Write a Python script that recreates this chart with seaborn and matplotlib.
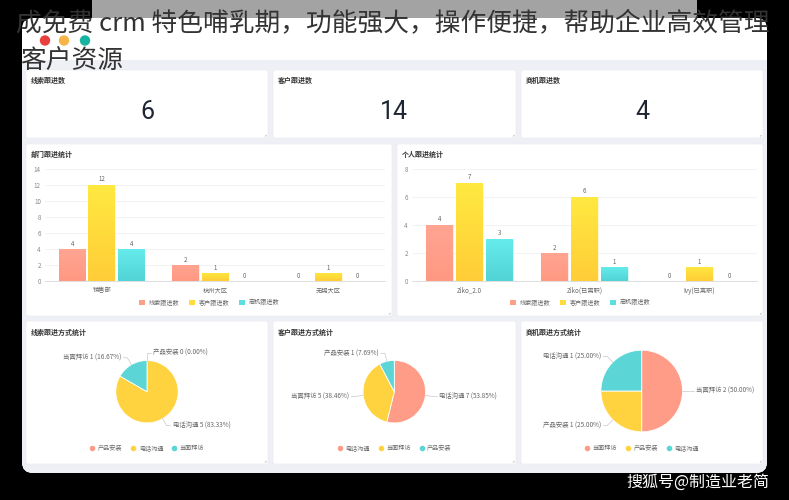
import numpy as np
import pandas as pd
import matplotlib
matplotlib.use("Agg")
import matplotlib.pyplot as plt
import seaborn as sns
from matplotlib.patches import FancyBboxPatch, Rectangle, Circle, Patch
from matplotlib.lines import Line2D
from matplotlib.colors import LinearSegmentedColormap

# ---------------- data ----------------
headline_line1 = "成免费 crm 特色哺乳期，功能强大，操作便捷，帮助企业高效管理"
headline_line2 = "客户资源"
card_titles = ["线索跟进数", "客户跟进数", "商机跟进数"]
card_values = [6, 14, 4]

series_names = ["线索跟进数", "客户跟进数", "商机跟进数"]
dept_title = "部门跟进统计"
dept_names = ["销售部", "杭州大区", "无锡大区"]
dept_lead = [4, 2, 0]
dept_customer = [12, 1, 1]
dept_opp = [4, 0, 0]

person_title = "个人跟进统计"
person_names = ["Ziko_2.0", "Ziko(已离职)", "Ivy(已离职)"]
person_lead = [4, 2, 0]
person_customer = [7, 6, 1]
person_opp = [3, 1, 0]

pie_titles = ["线索跟进方式统计", "客户跟进方式统计", "商机跟进方式统计"]
pie1_labels = ["产品安装", "电话沟通", "当面拜访"]
pie1_values = [0, 5, 1]
pie2_labels = ["电话沟通", "当面拜访", "产品安装"]
pie2_values = [7, 5, 1]
pie3_labels = ["当面拜访", "产品安装", "电话沟通"]
pie3_values = [2, 1, 1]
watermark = "搜狐号@制造业老简"

# ---------------- style ----------------
sns.set_theme(style="white")
plt.rcParams["font.family"] = ["Noto Sans CJK SC", "DejaVu Sans"]

W, H = 789, 500
fig = plt.figure(figsize=(W / 100, H / 100), dpi=100)
fig.patch.set_facecolor("black")


def rect(x0, y0, x1, y1):
    return [x0 / W, 1 - y1 / H, (x1 - x0) / W, (y1 - y0) / H]


bg = fig.add_axes([0, 0, 1, 1], zorder=0)
bg.set_xlim(0, W)
bg.set_ylim(H, 0)
bg.axis("off")
bg.set_facecolor("black")

# gray band at top and window
bg.add_patch(Rectangle((92, 0), 605, 20, color="#a3a3a3", lw=0))
bg.add_patch(FancyBboxPatch((22, 18), 745, 455, boxstyle="round,pad=0,rounding_size=11",
                            fc="white", ec="none"))
bg.add_patch(FancyBboxPatch((22, 60), 745, 413, boxstyle="round,pad=0,rounding_size=11",
                            fc="#eff0f5", ec="none"))
bg.add_patch(Rectangle((22, 60), 745, 20, color="#eff0f5", lw=0))
for cx, col in zip([45, 64, 85], ["#e8403f", "#f7b449", "#16b3a1"]):
    bg.add_patch(Circle((cx, 40.5), 5.2, color=col, lw=0))

# panels
def panel(x0, y0, x1, y1):
    bg.add_patch(FancyBboxPatch((x0, y0), x1 - x0, y1 - y0,
                                boxstyle="round,pad=0,rounding_size=2",
                                fc="white", ec="#e8e9ee", lw=0.4))
    bg.plot([x1 - 3, x1 - 1.5], [y1 - 1.5, y1 - 3], color="#999", lw=0.4)

row1 = [(26, 268), (273, 516), (521, 763)]
for (x0, x1), t, v in zip(row1, card_titles, card_values):
    panel(x0, 70, x1, 138)
    bg.text(x0 + 5, 80, t, fontsize=5, fontweight="bold", color="#333", va="center")
    bg.text((x0 + x1) / 2, 112, str(v), fontsize=18, color="#1e2533", ha="center",
            va="center", family=["Roboto", "DejaVu Sans"], fontweight="normal")

panel(26, 144, 392, 316)
panel(397, 144, 763, 316)
bg.text(31, 154, dept_title, fontsize=5, fontweight="bold", color="#333", va="center")
bg.text(402, 154, person_title, fontsize=5, fontweight="bold", color="#333", va="center")

for (x0, x1), t in zip(row1, pie_titles):
    panel(x0, 321, x1, 464)
    bg.text(x0 + 5, 332, t, fontsize=5, fontweight="bold", color="#333", va="center")

# headline overlay text and watermark
bg.text(16, 23, headline_line1, fontsize=18.5, color="#333333", va="center", ha="left", zorder=10)
bg.text(20, 61, headline_line2, fontsize=18.5, color="#333333", va="center", ha="left", zorder=10)
bg.text(769, 482, watermark, fontsize=11.5, color="white", va="center", ha="right", zorder=10)

# ---------------- bar charts ----------------
bar_colors = ["#ff9e89", "#ffdb3c", "#5ddfe2"]
grad = {
    "#ff9e89": ("#ff9882", "#ffa592"),
    "#ffdb3c": ("#ffcd38", "#ffe940"),
    "#5ddfe2": ("#52d3d6", "#66ecec"),
}


def bar_chart(box, names, s1, s2, s3, ymax, legend_x):
    ax = fig.add_axes(rect(*box), zorder=2)
    rows = []
    for i, n in enumerate(names):
        for s, vals in zip(series_names, [s1, s2, s3]):
            rows.append({"cat": n, "series": s, "value": vals[i]})
    df = pd.DataFrame(rows)
    sns.barplot(data=df, x="cat", y="value", hue="series", order=names,
                hue_order=series_names, palette=bar_colors, saturation=1,
                width=0.78, gap=0.1, ax=ax, legend=False,
                edgecolor="white", linewidth=0.4)
    xl = ax.get_xlim()
    for cont, col in zip(ax.containers, bar_colors):
        lo, hi = grad[col]
        cmap = LinearSegmentedColormap.from_list("g", [lo, hi])
        for p in cont.patches:
            h = p.get_height()
            if h > 0:
                im = ax.imshow(np.linspace(0, 1, 64).reshape(-1, 1), cmap=cmap,
                               extent=[p.get_x(), p.get_x() + p.get_width(), 0, h],
                               origin="lower", aspect="auto", zorder=p.get_zorder())
                im.set_clip_path(p)
        ax.bar_label(cont, fontsize=4.4, color="#666", padding=1)
    ax.set_xlim(xl)
    ax.set_ylim(0, ymax)
    ax.set_yticks(range(0, ymax + 1, 2))
    ax.set_facecolor("none")
    ax.yaxis.grid(True, color="#eeeeee", lw=0.5)
    ax.set_axisbelow(True)
    for sp in ["left", "top", "right"]:
        ax.spines[sp].set_visible(False)
    ax.spines["bottom"].set_color("#d9d9d9")
    ax.spines["bottom"].set_linewidth(0.6)
    ax.tick_params(axis="y", labelsize=4.5, labelcolor="#888", length=0, pad=3)
    ax.tick_params(axis="x", labelsize=4.5, labelcolor="#666", length=0, pad=4)
    ax.set_xlabel("")
    ax.set_ylabel("")
    handles = [Patch(fc=c, ec="none") for c in bar_colors]
    fig.legend(handles, series_names, loc="center",
               bbox_to_anchor=(legend_x / W, 1 - 302.5 / H), ncol=3, frameon=False,
               fontsize=4.4, handlelength=1.0, handleheight=0.9, handletextpad=0.6,
               columnspacing=1.6, labelcolor="#666")
    return ax


bar_chart((45, 168.7, 385, 281), dept_names, dept_lead, dept_customer, dept_opp, 14, 209)
bar_chart((412, 168.7, 757, 281), person_names, person_lead, person_customer, person_opp, 8, 580)

# ---------------- pies ----------------
pix = fig.add_axes([0, 0, 1, 1], zorder=3)
pix.set_facecolor("none")
pie_palette = ["#ff9c87", "#ffd33f", "#5bd5d6"]

pies = [
    (pie1_labels, pie1_values, (147, 391.7), 31.2),
    (pie2_labels, pie2_values, (394.3, 391.7), 31.3),
    (pie3_labels, pie3_values, (641.7, 391.0), 40.8),
]
for labels, values, (cx, cy), r in pies:
    cyu = H - cy
    wedges, _ = pix.pie(values, colors=pie_palette, startangle=90, counterclock=False,
                        center=(cx, cyu), radius=r, frame=True,
                        wedgeprops=dict(edgecolor="white", linewidth=0.6))
    total = sum(values)
    for w, lab, val in zip(wedges, labels, values):
        mid = np.deg2rad((w.theta1 + w.theta2) / 2)
        c, s = np.cos(mid), np.sin(mid)
        p0 = (cx + r * c, cyu + r * s)
        p1 = (cx + (r + 8) * c, cyu + (r + 8) * s)
        d = 1 if c >= -1e-6 else -1
        p2 = (p1[0] + 4 * d, p1[1])
        pix.plot([p0[0], p1[0], p2[0]], [p0[1], p1[1], p2[1]], color="#c8c8c8", lw=0.5)
        pct = 100 * val / total
        pix.text(p2[0] + 2 * d, p2[1], f"{lab} {val} ({pct:.2f}%)", fontsize=4.6,
                 color="#666", ha="left" if d > 0 else "right", va="center")
    handles = [Line2D([], [], marker="o", linestyle="", color=col, markersize=3)
               for col in pie_palette]
    fig.legend(handles, labels, loc="center", bbox_to_anchor=(cx / W, 1 - 448.3 / H),
               ncol=3, frameon=False, fontsize=4.4, handlelength=0.8, handletextpad=0.5,
               columnspacing=1.4, labelcolor="#666")

pix.set_xlim(0, W)
pix.set_ylim(0, H)
pix.set_aspect("auto")
pix.axis("off")

fig.savefig("out.png", dpi=100, facecolor="black")
